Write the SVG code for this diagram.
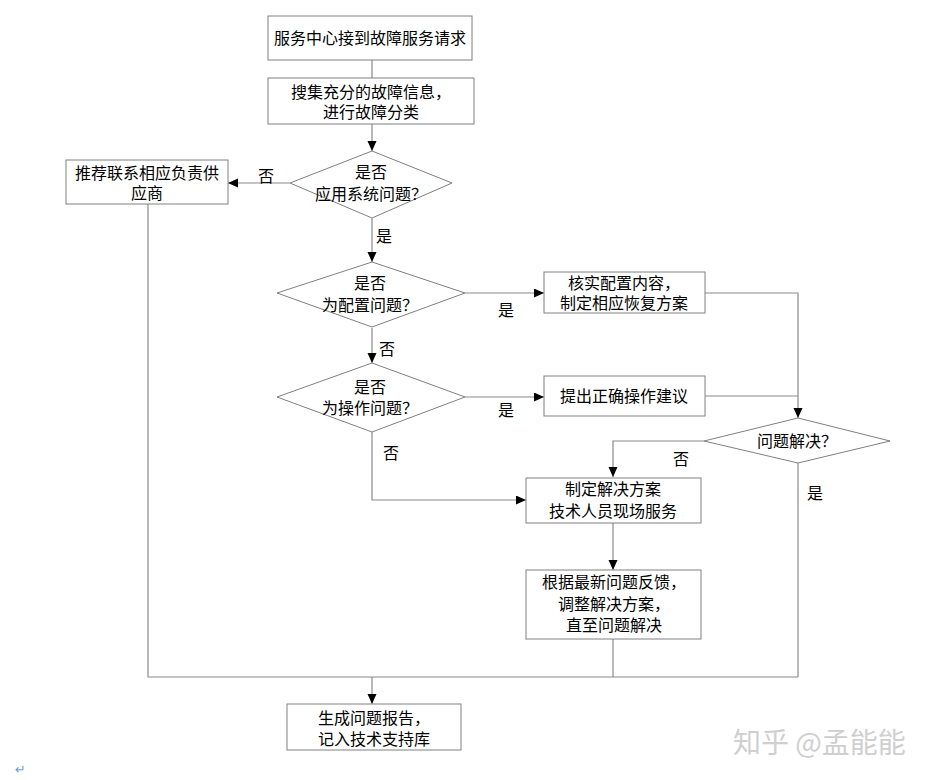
<svg xmlns="http://www.w3.org/2000/svg" width="932" height="780" viewBox="0 0 932 780">
<defs>
<marker id="arr" markerUnits="userSpaceOnUse" markerWidth="10" markerHeight="10" refX="10" refY="4.5" orient="auto">
<path d="M0,0 L10,4.5 L0,9 z" fill="#000"/>
</marker>
<style>
.box{fill:#fff;stroke:#808080;stroke-width:1}
.t{font-family:"Noto Sans CJK SC","Liberation Serif",serif;font-size:16px;fill:#000;text-anchor:middle}
.lbl{font-family:"Noto Sans CJK SC","Liberation Serif",serif;font-size:16px;fill:#000;text-anchor:middle}
.c{fill:none;stroke:#8a8a8a;stroke-width:1.2}
.ca{fill:none;stroke:#8a8a8a;stroke-width:1.2;marker-end:url(#arr)}
</style>
</defs>
<rect width="932" height="780" fill="#fff"/>
<g id="connectors">
<path class="c" d="M372,60 V78"/>
<path class="ca" d="M372,124 V151"/>
<path class="ca" d="M290,183 H228"/>
<path class="ca" d="M372,218 V262"/>
<path class="ca" d="M372,328 V363"/>
<path class="ca" d="M465,293 H544"/>
<path class="ca" d="M465,397 H544"/>
<path class="ca" d="M705,293 H798 V418"/>
<path class="c" d="M705,396 H798"/>
<path class="ca" d="M704,441 H613 V477"/>
<path class="ca" d="M372,432 V500 H526"/>
<path class="ca" d="M613,523 V570"/>
<path class="c" d="M613,639 V677"/>
<path class="c" d="M798,463 V677"/>
<path class="c" d="M148,204 V677 H798" stroke-width="1.6" stroke="#a0a0a0"/>
<path class="ca" d="M372,677 V704"/>
</g>
<g id="labels">
<text class="lbl" x="266" y="182">否</text>
<text class="lbl" x="384" y="242">是</text>
<text class="lbl" x="506" y="316">是</text>
<text class="lbl" x="387" y="355">否</text>
<text class="lbl" x="506" y="416">是</text>
<text class="lbl" x="391" y="459">否</text>
<text class="lbl" x="681" y="465">否</text>
<text class="lbl" x="815" y="499">是</text>
</g>
<g id="n1">
<rect class="box" x="268" y="16" width="204" height="44"/>
<text class="t" x="370" y="44">服务中心接到故障服务请求</text>
</g>
<g id="n2">
<rect class="box" x="268" y="78" width="206" height="46"/>
<text class="t" x="371" y="98">搜集充分的故障信息，</text>
<text class="t" x="371" y="118">进行故障分类</text>
</g>
<g id="d1">
<polygon class="box" points="372,151 452,183 372,218 290,183"/>
<text class="t" x="371" y="178">是否</text>
<text class="t" x="371" y="200">应用系统问题？</text>
</g>
<g id="n3">
<rect class="box" x="66" y="160" width="162" height="44"/>
<text class="t" x="147" y="179">推荐联系相应负责供</text>
<text class="t" x="147" y="199">应商</text>
</g>
<g id="d2">
<polygon class="box" points="372,262 465,293 372,327 277,293"/>
<text class="t" x="370" y="289">是否</text>
<text class="t" x="370" y="311">为配置问题？</text>
</g>
<g id="n4">
<rect class="box" x="544" y="272" width="161" height="41"/>
<text class="t" x="624" y="289">核实配置内容，</text>
<text class="t" x="624" y="309">制定相应恢复方案</text>
</g>
<g id="d3">
<polygon class="box" points="372,363 465,397 372,432 277,397"/>
<text class="t" x="370" y="393">是否</text>
<text class="t" x="370" y="414">为操作问题？</text>
</g>
<g id="n5">
<rect class="box" x="544" y="376" width="161" height="40"/>
<text class="t" x="624" y="402">提出正确操作建议</text>
</g>
<g id="d4">
<polygon class="box" points="798,418 890,441 798,463 704,441"/>
<text class="t" x="797" y="447">问题解决？</text>
</g>
<g id="n6">
<rect class="box" x="526" y="478" width="175" height="45"/>
<text class="t" x="613" y="495">制定解决方案</text>
<text class="t" x="613" y="517">技术人员现场服务</text>
</g>
<g id="n7">
<rect class="box" x="526" y="570" width="175" height="69"/>
<text class="t" x="614" y="588">根据最新问题反馈，</text>
<text class="t" x="614" y="610">调整解决方案，</text>
<text class="t" x="614" y="631">直至问题解决</text>
</g>
<g id="n8">
<rect class="box" x="287" y="704" width="174" height="46"/>
<text class="t" x="374" y="724">生成问题报告，</text>
<text class="t" x="374" y="745">记入技术支持库</text>
</g>
<text x="733" y="753" font-family="Noto Sans CJK SC,sans-serif" font-size="28" fill="#cfcfcf">知乎 @孟能能</text>
<text x="15" y="774" font-family="DejaVu Sans,sans-serif" font-size="13" fill="#6a9fd8">↵</text>
</svg>
